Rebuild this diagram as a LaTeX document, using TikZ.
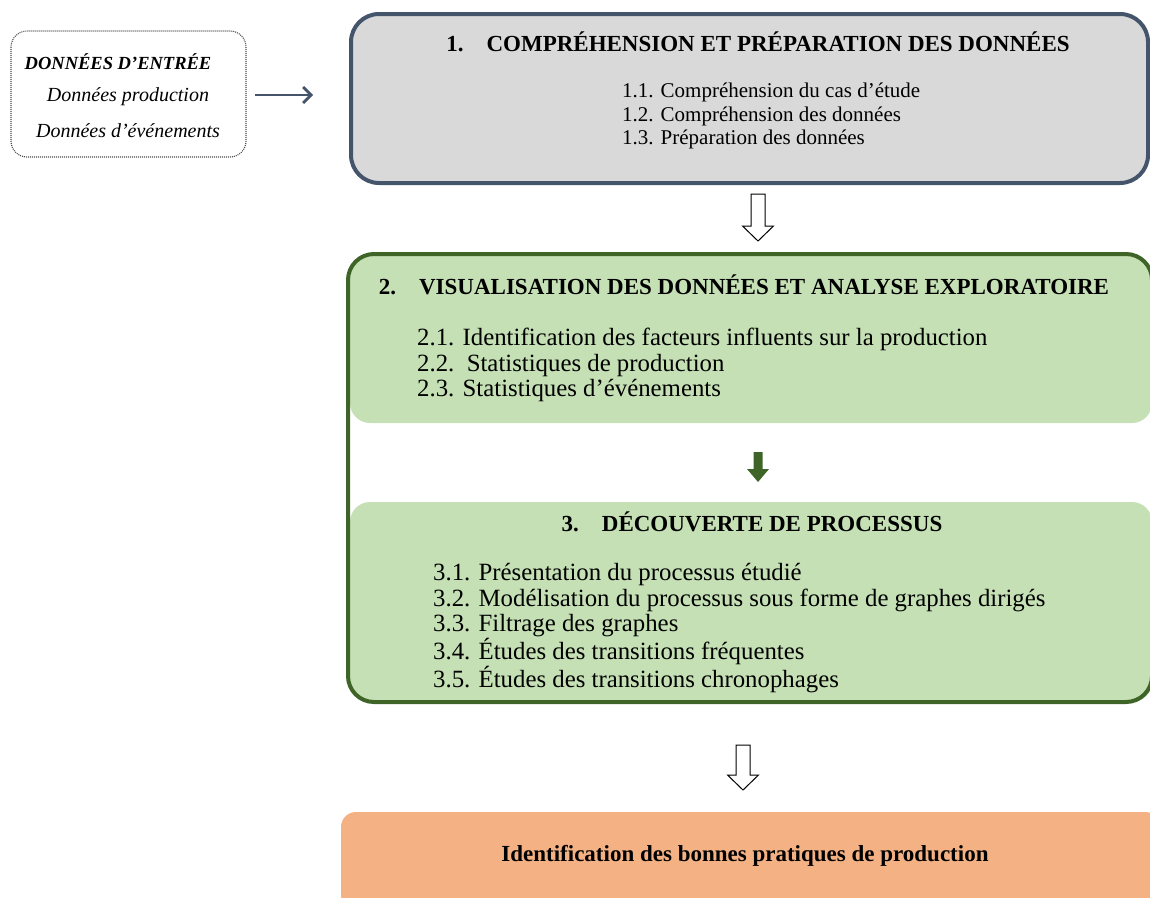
\documentclass[tikz,border=0pt]{standalone}
\usepackage{fontspec}
\setmainfont{Liberation Serif}
\usetikzlibrary{arrows.meta}
\definecolor{slate}{HTML}{44546A}
\definecolor{greyfill}{HTML}{D9D9D9}
\definecolor{darkgreen}{HTML}{3F6428}
\definecolor{greenfill}{HTML}{C5E0B4}
\definecolor{orangefill}{HTML}{F4B183}
\tikzset{
  boxtitle/.style={inner sep=0pt, font=\fontsize{23}{27}\selectfont\bfseries},
  itemlist/.style={inner sep=0pt, anchor=west, align=left},
  hollowarrow/.style={draw=black, line width=1pt, fill=white, line join=miter},
}
\begin{document}
\begin{tikzpicture}[x=1pt,y=-1pt]
\useasboundingbox (0,0) rectangle (1150,897);

% input data box
\draw[gray!60!black, line width=1.1pt, dash pattern=on 1pt off 1pt, rounded corners=16pt]
  (11,31) rectangle (246,157);
\coordinate (inputright) at (255,95);
\node[inner sep=0pt, font=\fontsize{18.5}{22}\selectfont\bfseries\itshape] (intitle) at (118,62) {DONNÉES D’ENTRÉE};
\node[inner sep=0pt, font=\fontsize{20}{24}\selectfont\itshape] (inprod) at (128,97) {Données production};
\node[inner sep=0pt, font=\fontsize{20}{24}\selectfont\itshape] (inevt) at (128,131) {Données d’événements};
\coordinate (boxoneleft) at (313,95);
\draw[slate, line width=2.8pt, -{Straight Barb[length=8pt,width=16pt,line width=2.8pt]}] (inputright) -- (boxoneleft);

% step 1
\draw[slate, line width=4pt, fill=greyfill, rounded corners=28pt]
  (351,14) rectangle (1148,183);
\node[boxtitle] (t1) at (758,42) {1.\hspace{1em}COMPRÉHENSION ET PRÉPARATION DES DONNÉES};
\node[itemlist, font=\fontsize{21}{23.5}\selectfont] (l1) at (622,116)
  {1.1. Compréhension du cas d’étude\\1.2. Compréhension des données\\1.3. Préparation des données};

% arrow 1 -> 2
\coordinate (a1) at (758,194);
\draw[hollowarrow] (a1) ++(-7,0) -- ++(14,0) -- ++(0,32) -- ++(8.5,0) -- ++(-15.5,15)
  -- ++(-15.5,-15) -- ++(8.5,0) -- cycle;

% steps 2 and 3, grouped in one frame
\fill[greenfill, rounded corners=20pt] (350,255) rectangle (1152,423);
\fill[greenfill, rounded corners=20pt] (350,502) rectangle (1152,702);
\draw[darkgreen, line width=4pt, rounded corners=26pt] (348,254) rectangle (1152,702);

\node[boxtitle] (t2) at (744,285) {2.\hspace{1em}VISUALISATION DES DONNÉES ET ANALYSE EXPLORATOIRE};
\node[itemlist, font=\fontsize{24.8}{25.5}\selectfont] (l2) at (417,365)
  {2.1. Identification des facteurs influents sur la production\\2.2.\ \ Statistiques de production\\2.3. Statistiques d’événements};

% arrow 2 -> 3
\coordinate (a2) at (758,452);
\fill[darkgreen] (a2) ++(-4.5,0) -- ++(9,0) -- ++(0,17) -- ++(6.5,0) -- ++(-11,13)
  -- ++(-11,-13) -- ++(6.5,0) -- cycle;

\node[boxtitle] (t3) at (752,522) {3.\hspace{1em}DÉCOUVERTE DE PROCESSUS};
\node[itemlist, font=\fontsize{24.8}{25.5}\selectfont] (l3) at (433,628)
  {3.1. Présentation du processus étudié\\3.2. Modélisation du processus sous forme de graphes dirigés\\3.3. Filtrage des graphes\\3.4. Études des transitions fréquentes\\3.5. Études des transitions chronophages};

% arrow 3 -> result
\coordinate (a3) at (743,745);
\draw[hollowarrow] (a3) ++(-7,0) -- ++(14,0) -- ++(0,30) -- ++(8.5,0) -- ++(-15.5,15)
  -- ++(-15.5,-15) -- ++(8.5,0) -- cycle;

% result
\fill[orangefill, rounded corners=15pt] (341,812) rectangle (1160,910);
\node[inner sep=0pt, font=\fontsize{23}{27}\selectfont\bfseries] (res) at (745,856) {Identification des bonnes pratiques de production};
\end{tikzpicture}
\end{document}
